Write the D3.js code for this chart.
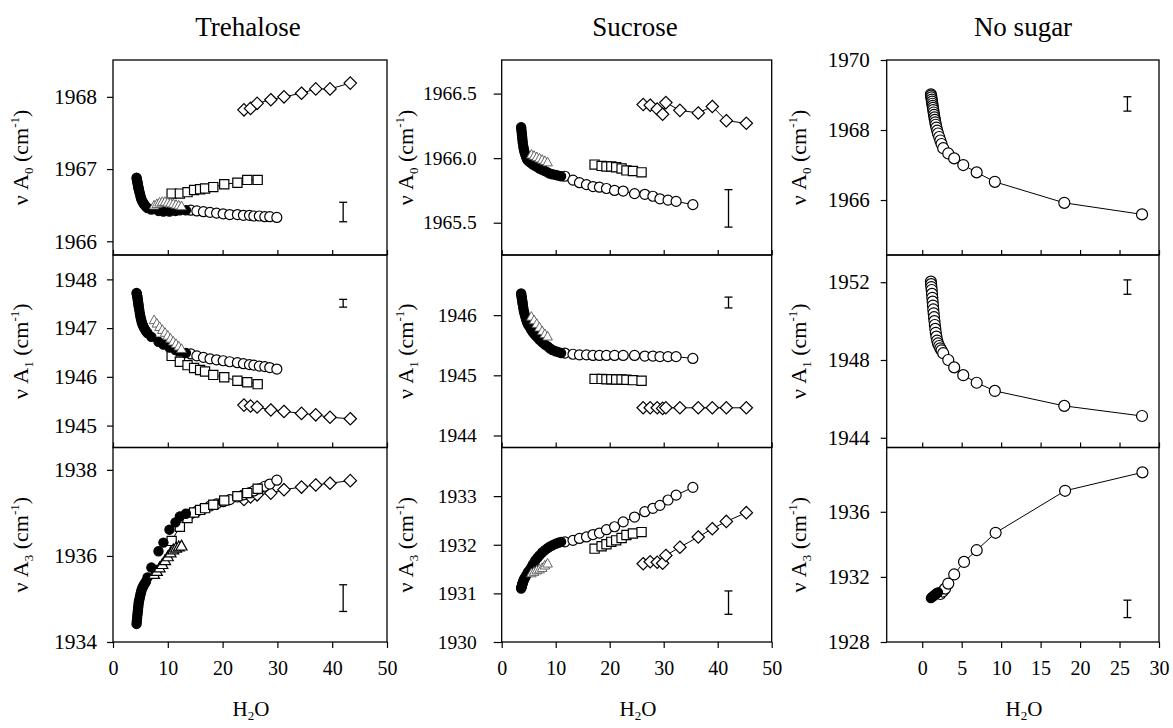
<!DOCTYPE html>
<html><head><meta charset="utf-8">
<script src="https://cdn.jsdelivr.net/npm/d3@7"></script>
<style>
body{margin:0;background:#fff}
svg text{font-family:"Liberation Serif","Times New Roman",serif;fill:#000}
</style>
</head><body>
<svg id="c" width="1173" height="728"></svg>
<script>
// ---------------- DATA ----------------
const titles = ["Trehalose", "Sucrose", "No sugar"];
const rowNames = ["0", "1", "3"];

// Trehalose
const treFilledX = [4.3,4.35,4.4,4.45,4.5,4.55,4.6,4.65,4.7,4.8,4.9,5.0,5.1,5.2,5.3,5.45,5.6,5.8,6.0,6.3,7.0,8.3,9.2,10.3,11.4,12.2,13.3];
const treFilledA0 = [1966.88,1966.86,1966.84,1966.82,1966.80,1966.78,1966.76,1966.74,1966.72,1966.69,1966.66,1966.63,1966.60,1966.58,1966.56,1966.54,1966.52,1966.50,1966.48,1966.46,1966.44,1966.42,1966.41,1966.41,1966.42,1966.43,1966.43];
const treFilledA1 = [1947.72,1947.70,1947.67,1947.64,1947.60,1947.56,1947.52,1947.48,1947.44,1947.37,1947.30,1947.24,1947.19,1947.14,1947.10,1947.06,1947.02,1946.98,1946.94,1946.90,1946.82,1946.72,1946.66,1946.60,1946.55,1946.52,1946.49];
const treFilledA3 = [1934.42,1934.48,1934.55,1934.62,1934.68,1934.74,1934.80,1934.86,1934.92,1934.98,1935.04,1935.10,1935.15,1935.20,1935.24,1935.28,1935.32,1935.36,1935.40,1935.50,1935.73,1936.11,1936.31,1936.61,1936.78,1936.92,1936.98];
const treTriX  = [7.5,8.0,8.5,9.0,9.5,10.0,10.5,11.0,11.5,12.0,12.5];
const treTriA0 = [1966.50,1966.52,1966.54,1966.55,1966.55,1966.54,1966.53,1966.52,1966.51,1966.50,1966.49];
const treTriA1 = [1947.17,1947.10,1947.03,1946.97,1946.91,1946.85,1946.79,1946.73,1946.68,1946.63,1946.58];
const treTriA3 = [1935.58,1935.65,1935.73,1935.81,1935.90,1935.99,1936.08,1936.15,1936.19,1936.22,1936.24];
const treCircX  = [14.2,15.3,16.5,17.7,18.9,20.1,21.3,22.7,23.8,24.9,25.7,26.7,27.7,28.6,29.9];
const treCircA0 = [1966.43,1966.42,1966.41,1966.40,1966.39,1966.38,1966.37,1966.37,1966.36,1966.36,1966.35,1966.35,1966.34,1966.34,1966.33];
const treCircA1 = [1946.47,1946.43,1946.40,1946.37,1946.35,1946.33,1946.31,1946.29,1946.27,1946.25,1946.24,1946.22,1946.21,1946.19,1946.16];
const treCircA3 = [1936.98,1937.04,1937.10,1937.16,1937.21,1937.26,1937.31,1937.37,1937.42,1937.47,1937.51,1937.56,1937.62,1937.67,1937.76];
const treSqX  = [10.7,12.2,13.6,14.8,15.9,16.8,18.3,20.3,22.7,24.5,26.4];
const treSqA0 = [1966.66,1966.66,1966.68,1966.71,1966.72,1966.73,1966.75,1966.79,1966.81,1966.85,1966.85];
const treSqA1 = [1946.43,1946.31,1946.24,1946.18,1946.14,1946.11,1946.04,1945.99,1945.92,1945.89,1945.85];
const treSqA3 = [1936.35,1936.68,1936.88,1937.01,1937.07,1937.11,1937.19,1937.29,1937.39,1937.46,1937.56];
const treDiaX  = [23.9,25.1,26.3,28.8,31.2,34.4,37.0,39.6,43.3];
const treDiaA0 = [1967.82,1967.84,1967.91,1967.96,1968.00,1968.05,1968.11,1968.11,1968.19];
const treDiaA1 = [1945.42,1945.40,1945.38,1945.32,1945.29,1945.25,1945.22,1945.17,1945.14];
const treDiaA3 = [1937.31,1937.37,1937.42,1937.46,1937.54,1937.60,1937.65,1937.69,1937.75];

// Sucrose
const sucFilledX = [3.6,3.65,3.7,3.75,3.8,3.85,3.9,4.0,4.1,4.2,4.35,4.5,4.7,4.9,5.2,5.5,5.8,6.2,6.6,7.0,7.5,8.0,8.5,8.9,9.4,10.0,10.5,11.0];
const sucFilledA0 = [1966.24,1966.22,1966.20,1966.18,1966.16,1966.14,1966.12,1966.09,1966.07,1966.05,1966.03,1966.01,1965.99,1965.98,1965.97,1965.96,1965.95,1965.94,1965.93,1965.92,1965.91,1965.90,1965.89,1965.88,1965.875,1965.87,1965.865,1965.86];
const sucFilledA1 = [1946.36,1946.33,1946.30,1946.27,1946.24,1946.21,1946.18,1946.12,1946.07,1946.03,1945.98,1945.93,1945.88,1945.84,1945.80,1945.75,1945.71,1945.67,1945.63,1945.59,1945.55,1945.51,1945.48,1945.45,1945.42,1945.40,1945.385,1945.37];
const sucFilledA3 = [1931.10,1931.12,1931.14,1931.16,1931.18,1931.20,1931.22,1931.25,1931.28,1931.30,1931.33,1931.36,1931.40,1931.44,1931.48,1931.54,1931.60,1931.67,1931.73,1931.78,1931.84,1931.89,1931.93,1931.96,1931.99,1932.02,1932.04,1932.06];
const sucTriX  = [5.5,6.0,6.5,7.0,7.5,8.0,8.5];
const sucTriA0 = [1966.03,1966.02,1966.01,1966.00,1965.99,1965.98,1965.97];
const sucTriA1 = [1945.98,1945.92,1945.86,1945.80,1945.74,1945.69,1945.65];
const sucTriA3 = [1931.42,1931.45,1931.48,1931.50,1931.53,1931.58,1931.62];
const sucCircX  = [11.7,13.2,14.4,15.7,16.9,18.1,19.4,20.9,22.5,24.6,26.5,28.0,29.3,30.8,32.3,35.4];
const sucCircA0 = [1965.86,1965.83,1965.81,1965.795,1965.78,1965.775,1965.765,1965.75,1965.745,1965.725,1965.72,1965.705,1965.685,1965.675,1965.665,1965.64];
const sucCircA1 = [1945.37,1945.35,1945.34,1945.34,1945.33,1945.33,1945.33,1945.33,1945.33,1945.33,1945.32,1945.32,1945.31,1945.31,1945.31,1945.28];
const sucCircA3 = [1932.06,1932.09,1932.13,1932.16,1932.21,1932.24,1932.31,1932.37,1932.47,1932.57,1932.68,1932.75,1932.81,1932.92,1933.02,1933.18];
const sucSqX  = [17.2,18.5,19.4,20.3,21.2,22.2,23.1,24.3,25.9];
const sucSqA0 = [1965.95,1965.94,1965.935,1965.935,1965.93,1965.92,1965.905,1965.90,1965.89];
const sucSqA1 = [1944.94,1944.94,1944.935,1944.935,1944.93,1944.93,1944.925,1944.92,1944.91];
const sucSqA3 = [1931.92,1931.97,1932.01,1932.06,1932.09,1932.14,1932.20,1932.23,1932.26];
const sucDiaX  = [26.2,27.5,28.8,29.8,30.4,33.0,36.4,39.0,41.6,45.3];
const sucDiaA0 = [1966.415,1966.41,1966.38,1966.34,1966.43,1966.37,1966.35,1966.40,1966.29,1966.27];
const sucDiaA1 = [1944.46,1944.46,1944.46,1944.45,1944.46,1944.46,1944.46,1944.46,1944.46,1944.46];
const sucDiaA3 = [1931.61,1931.65,1931.64,1931.62,1931.78,1931.95,1932.16,1932.33,1932.48,1932.66];

// No sugar
const nsX  = [1.1,1.13,1.16,1.2,1.24,1.28,1.32,1.36,1.4,1.45,1.5,1.55,1.6,1.66,1.72,1.8,1.9,2.0,2.15,2.3,2.45,2.66,3.3,4.05,5.2,6.9,9.2,18.0,27.85];
const nsA0 = [1969.02,1968.98,1968.93,1968.87,1968.81,1968.75,1968.69,1968.63,1968.57,1968.50,1968.43,1968.36,1968.29,1968.22,1968.15,1968.07,1967.98,1967.90,1967.80,1967.70,1967.60,1967.48,1967.33,1967.19,1967.00,1966.79,1966.52,1965.92,1965.59];
const nsA1 = [1952.03,1951.90,1951.75,1951.60,1951.40,1951.20,1951.00,1950.80,1950.60,1950.40,1950.20,1950.00,1949.80,1949.60,1949.40,1949.20,1949.00,1948.85,1948.72,1948.60,1948.50,1948.35,1948.00,1947.62,1947.22,1946.83,1946.41,1945.64,1945.12];
const nsFilledX  = [1.1,1.2,1.3,1.4,1.5,1.6,1.7,1.8,1.9,2.0];
const nsFilledA3 = [1930.70,1930.74,1930.78,1930.82,1930.86,1930.90,1930.94,1930.98,1931.02,1931.05];
const nsOpenA3X  = [2.3,2.6,2.9,3.3,4.05,5.3,6.9,9.3,18.1,27.9];
const nsOpenA3   = [1930.95,1931.10,1931.28,1931.59,1932.15,1932.92,1933.64,1934.71,1937.29,1938.42];

// error bars: x, low, high per panel
const errX = [42, 42, 26];
const errLo = [[1966.27,1947.43,1934.71],[1965.466,1946.12,1930.57],[1968.54,1951.38,1929.50]];
const errHi = [[1966.54,1947.59,1935.33],[1965.756,1946.30,1931.05],[1968.95,1952.12,1930.57]];

// ticks
const xTicks = [[0,10,20,30,40,50],[0,10,20,30,40,50],[0,5,10,15,20,25,30]];
const yTicks = [
  [[1966,1967,1968],[1945,1946,1947,1948],[1934,1936,1938]],
  [[1965.5,1966.0,1966.5],[1944,1945,1946],[1930,1931,1932,1933]],
  [[1966,1968,1970],[1944,1948,1952],[1928,1932,1936]]
];
const xDomains = [[0,50],[0,50],[-4.5,30]];
const yDomains = [
  [[1965.81,1968.51],[1944.55,1948.5],[1934,1938.52]],
  [[1965.25,1966.76],[1943.8,1947.0],[1930,1934]],
  [[1964.43,1970],[1943.5,1953.4],[1928,1939.95]]
];

// ---------------- LAYOUT ----------------
const colBox = [[113,387],[501.7,771.7],[886.7,1159]];
const rowBox = [[60,255],[255,447.5],[447.5,642]];
const colStyle = [
  {yFont:21.5, yPad:10, yTick:6, labX:28, titleX:248, h2oX:251, r:5},
  {yFont:19.5, yPad:17, yTick:8, labX:413, titleX:635, h2oX:638, r:5},
  {yFont:21,   yPad:11, yTick:6, labX:806, titleX:1023, h2oX:1024, r:5.5}
];

const zip = (xs, ys) => xs.map((x,i)=>({x, y:ys[i]}));
const series = [
  [ // Trehalose
    [
      {pts:zip(treDiaX,treDiaA0), shape:"dia", line:true},
      {pts:zip(treSqX,treSqA0), shape:"sq", line:true},
      {pts:zip(treCircX,treCircA0), shape:"circ", line:true},
      {pts:zip(treFilledX,treFilledA0), shape:"filled"},
      {pts:zip(treTriX,treTriA0), shape:"tri", faint:true}
    ],
    [
      {pts:zip(treDiaX,treDiaA1), shape:"dia", line:true},
      {pts:zip(treSqX,treSqA1), shape:"sq", line:true},
      {pts:zip(treCircX,treCircA1), shape:"circ", line:true},
      {pts:zip(treFilledX,treFilledA1), shape:"filled"},
      {pts:zip(treTriX,treTriA1), shape:"tri", faint:true}
    ],
    [
      {pts:zip(treDiaX,treDiaA3), shape:"dia", line:true},
      {pts:zip(treCircX,treCircA3), shape:"circ", line:true},
      {pts:zip(treSqX,treSqA3), shape:"sq", line:true},
      {pts:zip(treFilledX,treFilledA3), shape:"filled"},
      {pts:zip(treTriX,treTriA3), shape:"tri"}
    ]
  ],
  [ // Sucrose
    [
      {pts:zip(sucDiaX,sucDiaA0), shape:"dia", line:true},
      {pts:zip(sucSqX,sucSqA0), shape:"sq", line:true},
      {pts:zip(sucCircX,sucCircA0), shape:"circ", line:true},
      {pts:zip(sucFilledX,sucFilledA0), shape:"filled"},
      {pts:zip(sucTriX,sucTriA0), shape:"tri", faint:true}
    ],
    [
      {pts:zip(sucDiaX,sucDiaA1), shape:"dia", line:true},
      {pts:zip(sucSqX,sucSqA1), shape:"sq", line:true},
      {pts:zip(sucCircX,sucCircA1), shape:"circ", line:true},
      {pts:zip(sucFilledX,sucFilledA1), shape:"filled"},
      {pts:zip(sucTriX,sucTriA1), shape:"tri", faint:true}
    ],
    [
      {pts:zip(sucDiaX,sucDiaA3), shape:"dia", line:true},
      {pts:zip(sucSqX,sucSqA3), shape:"sq", line:true},
      {pts:zip(sucCircX,sucCircA3), shape:"circ", line:true},
      {pts:zip(sucFilledX,sucFilledA3), shape:"filled"},
      {pts:zip(sucTriX,sucTriA3), shape:"tri", faint:true}
    ]
  ],
  [ // No sugar
    [ {pts:zip(nsX,nsA0), shape:"circ", line:true} ],
    [ {pts:zip(nsX,nsA1), shape:"circ", line:true} ],
    [
      {pts:zip(nsOpenA3X,nsOpenA3), shape:"circ", line:true},
      {pts:zip(nsFilledX,nsFilledA3), shape:"filled"}
    ]
  ]
];

// ---------------- DRAW ----------------
const svg = d3.select("#c");
const FONT = '"Liberation Serif","Times New Roman",serif';

function markerPath(shape, r, faint){
  if(shape==="sq"){ const h=4.6; return `M${-h},${-h}H${h}V${h}H${-h}Z`; }
  if(shape==="dia"){ const h=6.2; return `M0,${-h}L${h},0L0,${h}L${-h},0Z`; }
  if(shape==="tri"){ const h=faint?4.8:5.5; return `M0,${-h}L${h},${h*0.8}L${-h},${h*0.8}Z`; }
  const rr = shape==="filled" ? 4.6 : r;
  return `M${rr},0A${rr},${rr} 0 1,1 ${-rr},0A${rr},${rr} 0 1,1 ${rr},0Z`;
}

for(let c=0;c<3;c++){
  const st = colStyle[c];
  const x = d3.scaleLinear().domain(xDomains[c]).range(colBox[c]);
  // title
  svg.append("text").attr("x",st.titleX).attr("y",36).attr("text-anchor","middle")
    .attr("font-size",27).text(titles[c]);
  // x-axis title H2O
  const h = svg.append("text").attr("x",st.h2oX).attr("y",716).attr("text-anchor","middle").attr("font-size",21);
  h.append("tspan").text("H");
  h.append("tspan").attr("font-size",13).attr("dy",4).text("2");
  h.append("tspan").attr("dy",-4).text("O");

  for(let r=0;r<3;r++){
    const [y0,y1] = rowBox[r];
    const y = d3.scaleLinear().domain(yDomains[c][r]).range([y1,y0]);
    const g = svg.append("g");
    const clipId = `clip${c}${r}`;
    svg.append("clipPath").attr("id",clipId).append("rect")
      .attr("x",colBox[c][0]).attr("y",y0).attr("width",colBox[c][1]-colBox[c][0]).attr("height",y1-y0);

    // y axis
    const fmt = c===1 && r===0 ? d3.format(".1f") : d3.format("d");
    const ya = g.append("g").attr("transform",`translate(${colBox[c][0]},0)`)
      .call(d3.axisLeft(y).tickValues(yTicks[c][r]).tickFormat(fmt).tickSize(st.yTick).tickPadding(st.yPad));
    ya.select(".domain").remove();
    ya.selectAll("line").attr("stroke","#000").attr("stroke-width",1.2);
    ya.selectAll("text").attr("font-family",FONT).attr("font-size",st.yFont).attr("fill","#000");

    // x axis
    if(r<2){
      const xa = g.append("g").attr("transform",`translate(0,${y1})`)
        .call(d3.axisBottom(x).tickValues(xTicks[c]).tickSize(-5).tickFormat(""));
      xa.select(".domain").remove();
      xa.selectAll("line").attr("stroke","#000").attr("stroke-width",1.2);
    } else {
      const xa = g.append("g").attr("transform",`translate(0,${y1})`)
        .call(d3.axisBottom(x).tickValues(xTicks[c]).tickSize(6).tickPadding(13).tickFormat(d3.format("d")));
      xa.select(".domain").remove();
      xa.selectAll("line").attr("stroke","#000").attr("stroke-width",1.2);
      xa.selectAll("text").attr("font-family",FONT).attr("font-size",20).attr("fill","#000");
    }

    // frame
    g.append("rect").attr("x",colBox[c][0]).attr("y",y0)
      .attr("width",colBox[c][1]-colBox[c][0]).attr("height",y1-y0)
      .attr("fill","none").attr("stroke","#000").attr("stroke-width",1.3);

    // y label
    const yl = g.append("text").attr("transform",`translate(${st.labX},${(y0+y1)/2}) rotate(-90)`)
      .attr("text-anchor","middle").attr("font-size",22);
    yl.append("tspan").text("\u03BD A");
    yl.append("tspan").attr("font-size",13).attr("dy",5).text(rowNames[r]);
    yl.append("tspan").attr("dy",-5).text(" (cm");
    yl.append("tspan").attr("font-size",13).attr("dy",-9).text("-1");
    yl.append("tspan").attr("dy",9).text(")");

    // data
    const dg = g.append("g").attr("clip-path",`url(#${clipId})`);
    const line = d3.line().x(d=>x(d.x)).y(d=>y(d.y));
    series[c][r].forEach(s=>{
      if(s.line){
        dg.append("path").attr("d",line(s.pts)).attr("fill","none").attr("stroke","#000").attr("stroke-width",1);
      }
    });
    series[c][r].forEach(s=>{
      const filled = s.shape==="filled";
      dg.append("g").selectAll("path").data(s.pts).join("path")
        .attr("transform",d=>`translate(${x(d.x)},${y(d.y)})`)
        .attr("d",markerPath(s.shape, st.r, s.faint))
        .attr("fill", filled ? "#000" : "#fff")
        .attr("stroke", s.faint ? "#555" : "#000")
        .attr("stroke-width", s.faint ? 0.9 : 1.2);
    });

    // error bar
    const ex = x(errX[c]), ylo = y(errLo[c][r]), yhi = y(errHi[c][r]);
    const eg = g.append("g").attr("stroke","#000").attr("stroke-width",1.3);
    eg.append("line").attr("x1",ex).attr("x2",ex).attr("y1",ylo).attr("y2",yhi);
    eg.append("line").attr("x1",ex-4).attr("x2",ex+4).attr("y1",ylo).attr("y2",ylo);
    eg.append("line").attr("x1",ex-4).attr("x2",ex+4).attr("y1",yhi).attr("y2",yhi);
  }
}
</script>
</body></html>
